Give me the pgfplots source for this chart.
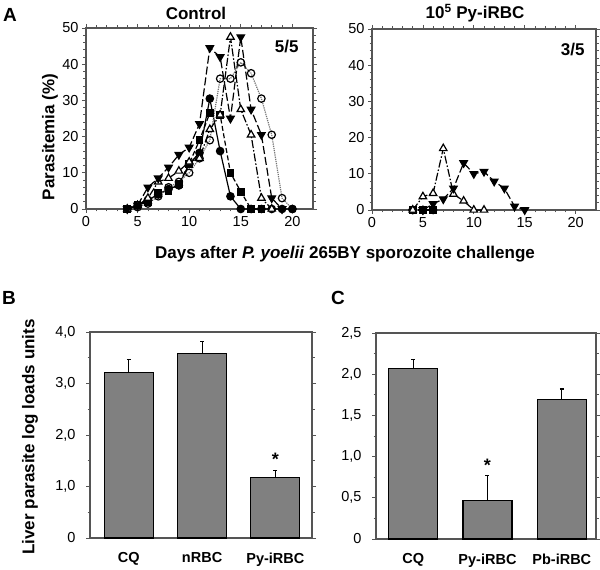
\documentclass[border=0pt]{standalone}
\usepackage{fontspec}
\setmainfont{Liberation Sans}
\usepackage{pgfplots}
\pgfplotsset{compat=1.18}
\definecolor{barfill}{HTML}{808080}
\definecolor{frame}{HTML}{555555}

\newcommand{\tickfont}{\fontsize{14.5}{16}\selectfont}
\newcommand{\labfont}{\fontsize{17}{20}\selectfont\bfseries}

\pgfplotsset{
  panel/.style={scale only axis, anchor=south west,
    axis line style={draw=frame, line width=1.1pt},
    tick style={draw=frame, line width=0.8pt},
    tick align=outside,
    major tick length=4pt, minor tick length=2.5pt,
    tick label style={font=\tickfont},
    /pgf/number format/assume math mode=true,
    clip=false},
  para/.style={panel, xmin=0, xmax=22, ymin=0, ymax=50,
    xtick={0,5,10,15,20}, ytick={0,10,20,30,40,50},
    minor x tick num=4, minor y tick num=4},
  bars/.style={panel, ybar, bar width=49pt, ymin=0,
    xtick={0,1,2}, major x tick style={draw=none},
    xticklabel style={font=\tickfont\bfseries, yshift=-7pt},
    yticklabel style={xshift=-7pt}},
  mA/.style={black, line width=1.2pt, solid, mark=*, mark size=3.7pt,
    mark options={solid, fill=black}},
  mB/.style={black, line width=1.2pt, dash pattern=on 5pt off 2.5pt, mark=square*,
    mark size=3.3pt, mark options={solid, fill=black}},
  mC/.style={black!55, line width=1.2pt, densely dotted, mark=o, mark size=3.7pt,
    mark options={solid, draw=black, fill=white}},
  mD/.style={black, line width=1.2pt, dash pattern=on 8pt off 2pt on 1.5pt off 2pt,
    mark=triangle*, mark size=4.3pt, mark options={solid, draw=black, fill=white}},
  mE/.style={black, line width=1.2pt, dash pattern=on 8pt off 3pt, mark=triangle*,
    mark size=4.3pt, mark options={solid, fill=black, rotate=180}},
  barplot/.style={fill=barfill, draw=black, line width=1.2pt,
    error bars/.cd, y dir=plus, y explicit,
    error bar style={line width=1.2pt, black},
    error mark options={rotate=90, mark size=2pt, line width=1.2pt}},
}

\begin{document}
\begin{tikzpicture}[x=1pt,y=1pt]

% A, control
\begin{axis}[para, at={(86pt,361pt)}, width=227pt, height=181pt]
\addplot[mA] coordinates {(4,0) (5,1) (6,2.5) (7,4) (8,5.5) (9,6.5) (10,12.5) (11,15.5) (12,30.5) (13,16) (14,3.5) (15,0) (16,0) (17,0) (18,0) (19,0) (20,0)};
\addplot[mB] coordinates {(4,0) (5,1) (6,2) (7,4.5) (8,5) (9,7) (10,12.5) (11,19) (12,26.5) (13,26) (14,10) (15,4.8) (16,0) (17,0)};
\addplot[mC] coordinates {(4,0) (5,0.5) (6,1.5) (7,3.5) (8,6) (9,7.5) (10,10) (11,14) (12,19) (13,36) (14,36) (15,40.5) (16,37.5) (17,30.5) (18,20.5) (19,3) (20,0)};
\addplot[mD] coordinates {(4,0) (5,1) (6,3) (7,7.5) (8,8.5) (9,10.5) (10,13) (11,14) (12,22) (13,26) (14,47.5) (15,27.5) (16,20.5) (17,3) (18,0)};
\addplot[mE] coordinates {(4,0) (5,1) (6,6) (7,8.5) (8,11.5) (9,15) (10,17) (11,23.5) (12,44.5) (13,42) (14,25) (15,47.5) (16,27.5) (17,20.5) (18,3) (19,0)};
\end{axis}

% A, 10^5 Py-iRBC
\begin{axis}[para, at={(372pt,360pt)}, width=224pt, height=181pt]
\addplot[mA] coordinates {(4,0) (5,0) (6,0)};
\addplot[mB] coordinates {(4,0) (5,0) (6,0)};
\addplot[mC] coordinates {(4,0) (5,0)};
\addplot[mD] coordinates {(4,0) (5,3.7) (6,4.6) (7,17) (8,4.4) (9,2.5) (10,0) (11,0)};
\addplot[mE] coordinates {(5,0) (6,1.7) (7,3) (8,6) (9,13) (10,10) (11,10.6) (12,7.9) (13,6) (14,1) (15,0)};
\end{axis}

% B
\begin{axis}[bars, at={(90pt,32pt)}, width=222pt, height=206pt,
  xmin=-0.53, xmax=2.5, ymax=4,
  xticklabels={CQ,nRBC,Py-iRBC},
  ytick={0,1,2,3,4}, yticklabels={0,{1,0},{2,0},{3,0},{4,0}},
  minor y tick num=1]
\addplot[barplot] coordinates {(0,3.21) +- (0,0.25) (1,3.59) +- (0,0.22) (2,1.18) +- (0,0.13)};
\node[font=\fontsize{18}{18}\selectfont\bfseries] at (axis cs:2,1.52) {*};
\end{axis}

% C
\begin{axis}[bars, at={(376pt,31pt)}, width=220pt, height=206pt,
  xmin=-0.5, xmax=2.46, ymax=2.5,
  xticklabels={CQ,Py-iRBC,Pb-iRBC},
  ytick={0,0.5,1,1.5,2,2.5}, yticklabels={0,{0,5},{1,0},{1,5},{2,0},{2,5}},
  minor y tick num=1]
\addplot[barplot] coordinates {(0,2.07) +- (0,0.11) (1,0.47) +- (0,0.30) (2,1.69) +- (0,0.13)};
\node[font=\fontsize{18}{18}\selectfont\bfseries] at (axis cs:1,0.9) {*};
\end{axis}

% titles and labels
\node[font=\labfont] at (196,557) {Control};
\node[font=\labfont] at (475,557) {10\textsuperscript{5} Py-iRBC};
\node[font=\labfont, anchor=east] at (302,523) {5/5};
\node[font=\labfont, anchor=east] at (588,520) {3/5};
\node[font=\fontsize{19}{20}\selectfont\bfseries] at (10,555) {A};
\node[font=\fontsize{19}{20}\selectfont\bfseries] at (9,272) {B};
\node[font=\fontsize{19}{20}\selectfont\bfseries] at (338,272) {C};
\node[font=\labfont, rotate=90] at (50,433) {Parasitemia (\%)};
\node[font=\labfont] at (345,316) {Days after \textit{P. yoelii} 265BY sporozoite challenge};
\node[font=\labfont, rotate=90] at (30,133) {Liver parasite log loads units};

\pgfresetboundingbox
\path (0,0) rectangle (600,570);
\end{tikzpicture}
\end{document}
